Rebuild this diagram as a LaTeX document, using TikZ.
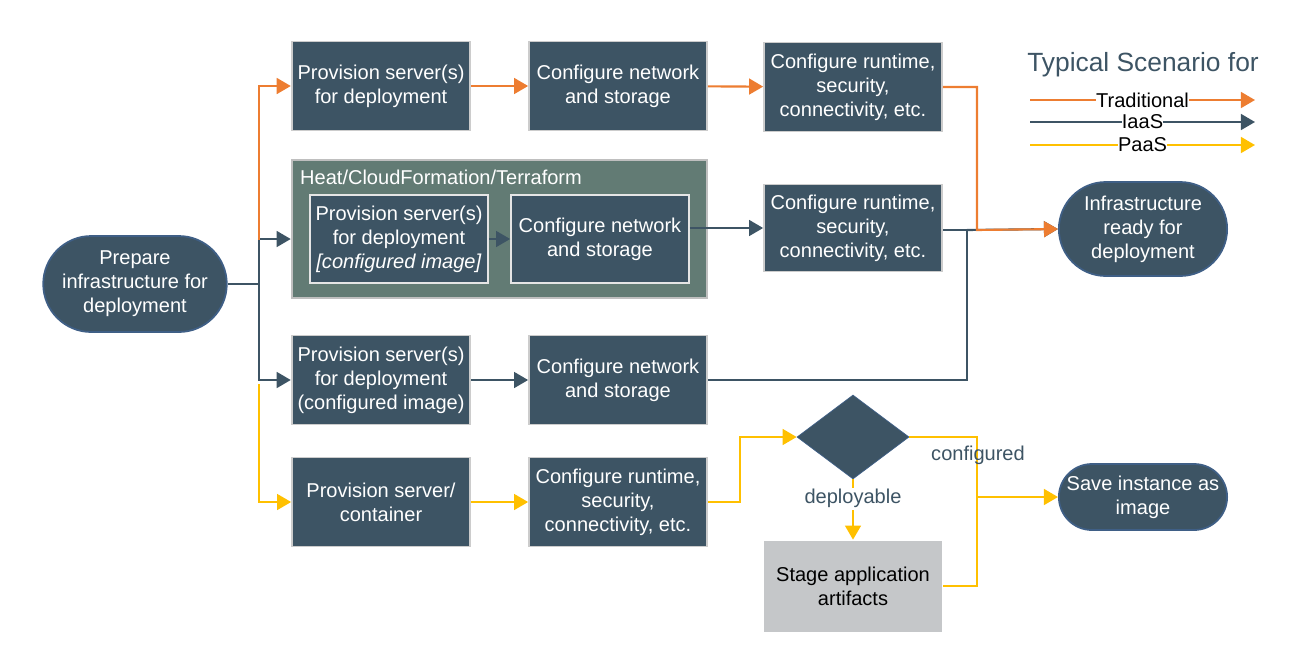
\documentclass[tikz,border=0pt]{standalone}
\usepackage{fontspec}
\setmainfont{Liberation Sans}
\usetikzlibrary{shapes.geometric,shapes.misc,arrows.meta}
\definecolor{slate}{HTML}{3D5464}
\definecolor{trad}{HTML}{ED7D31}
\definecolor{paas}{HTML}{FFC000}
\definecolor{heatfill}{HTML}{627B74}
\definecolor{stagefill}{HTML}{C5C7C9}
\definecolor{rim}{HTML}{3F5F86}
\begin{document}
\begin{tikzpicture}[x=0.02cm, y=-0.02cm,
        task/.style={rectangle, draw=gray!40, line width=1pt, fill=slate, text=white, minimum width=3.56cm, minimum height=1.78cm, align=center, font=\fontsize{11.4}{13.6}\selectfont},
        term/.style={rounded rectangle, draw=rim, line width=1pt, fill=slate, text=white, minimum width=3.6cm, align=center, font=\fontsize{11.4}{13.6}\selectfont},
        decide/.style={diamond, draw=rim, fill=slate, minimum width=2.24cm, minimum height=1.68cm, inner sep=0pt, aspect=1.33},
        flow/.style={line width=1.2pt, -{Triangle[length=8pt, width=9pt]}},
        iaas/.style={flow, draw=slate},
        trd/.style={flow, draw=trad},
        pas/.style={flow, draw=paas},
        edge_label/.style={font=\fontsize{11.4}{13.6}\selectfont, text=slate, fill=white, inner sep=1pt}
    ]
        \useasboundingbox (0,0) rectangle (1295,657);

        % Heat group
        \node[rectangle, draw=gray!50, line width=1.5pt, fill=heatfill, minimum width=8.3cm, minimum height=2.76cm] (heat) at (499.5,229) {};
        \node[text=white, anchor=west, font=\fontsize{11.4}{13.6}\selectfont] (heat_label) at (294,177) {Heat/CloudFormation/Terraform};

        % Nodes
        \node[term, minimum height=1.92cm] (prep) at (135,284) {Prepare\\infrastructure for\\deployment};
        \node[task] (prov1) at (381,86) {Provision server(s)\\for deployment};
        \node[task] (conf1) at (618,86) {Configure network\\and storage};
        \node[task] (run1) at (853,87) {Configure runtime,\\security,\\connectivity, etc.};
        \node[task, draw=white!80!gray, minimum width=3.56cm, minimum height=1.76cm] (prov2) at (399,239) {Provision server(s)\\for deployment\\\textit{[configured image]}};
        \node[task, draw=white!80!gray, minimum height=1.76cm] (conf2) at (600,239) {Configure network\\and storage};
        \node[task, minimum height=1.74cm] (run2) at (853,228) {Configure runtime,\\security,\\connectivity, etc.};
        \node[term, minimum height=1.88cm] (ready) at (1143,229) {Infrastructure\\ready for\\deployment};
        \node[task] (prov3) at (381,380) {Provision server(s)\\for deployment\\(configured image)};
        \node[task] (conf3) at (618,380) {Configure network\\and storage};
        \node[decide] (check) at (853,437) {};
        \node[task] (prov4) at (381,502) {Provision server/\\container};
        \node[task] (run4) at (618,502) {Configure runtime,\\security,\\connectivity, etc.};
        \node[task, fill=stagefill, draw=none, text=black, minimum height=1.82cm] (stage) at (853,586) {Stage application\\artifacts};
        \node[term, minimum height=1.32cm] (save) at (1143,497) {Save instance as\\image};

        % Legend
        \node[text=slate, font=\fontsize{15}{17}\selectfont] (legend_title) at (1143,65) {Typical Scenario for};
        \coordinate (lt_a) at (1030,100); \coordinate (lt_b) at (1255,100);
        \coordinate (li_a) at (1030,122); \coordinate (li_b) at (1255,122);
        \coordinate (lp_a) at (1030,145); \coordinate (lp_b) at (1255,145);
        \draw[trd] (lt_a) -- (lt_b) node[midway, fill=white, inner sep=0pt, font=\fontsize{11.4}{12}\selectfont] {Traditional};
        \draw[iaas] (li_a) -- (li_b) node[midway, fill=white, inner sep=0pt, font=\fontsize{11.4}{12}\selectfont] {IaaS};
        \draw[pas] (lp_a) -- (lp_b) node[midway, fill=white, inner sep=0pt, font=\fontsize{11.4}{12}\selectfont] {PaaS};

        % IaaS paths
        \coordinate (trunk) at (259,284);
        \coordinate (join) at (967,230);
        \draw[iaas] (prep.east) -- (trunk) |- (heat.west |- prov2);
        \draw[iaas] (trunk) |- (prov3.west);
        \draw[iaas] (prov2) -- (conf2);
        \draw[iaas] (conf2.east |- run2) -- (run2.west);
        \draw[iaas] (prov3) -- (conf3);
        \draw[line width=1.2pt, slate] (conf3.east) -| (join) -- (run2.east |- join);
        \draw[iaas] (join) -- (ready.west);

        % Traditional path
        \draw[trd] (259,240) |- (prov1.west);
        \draw[trd] (prov1) -- (conf1);
        \draw[trd] (conf1) -- (run1);
        \draw[trd] (run1.east) -| (977,230) -- (ready.west);

        % PaaS path
        \draw[pas] (259,384) |- (prov4.west);
        \draw[pas] (prov4) -- (run4);
        \draw[pas] (run4.east) -- (740,502) |- (check.west);
        \draw[pas] (check.south) -- (stage.north) node[edge_label, pos=0.32] {deployable};
        \draw[line width=1.2pt, paas] (check.east) -| (977,586) -- (stage.east);
        \node[edge_label, fill=none] (conf_label) at (978,455) {configured};
        \draw[pas] (977,497) -- (save.west);
    \end{tikzpicture}
\end{document}
